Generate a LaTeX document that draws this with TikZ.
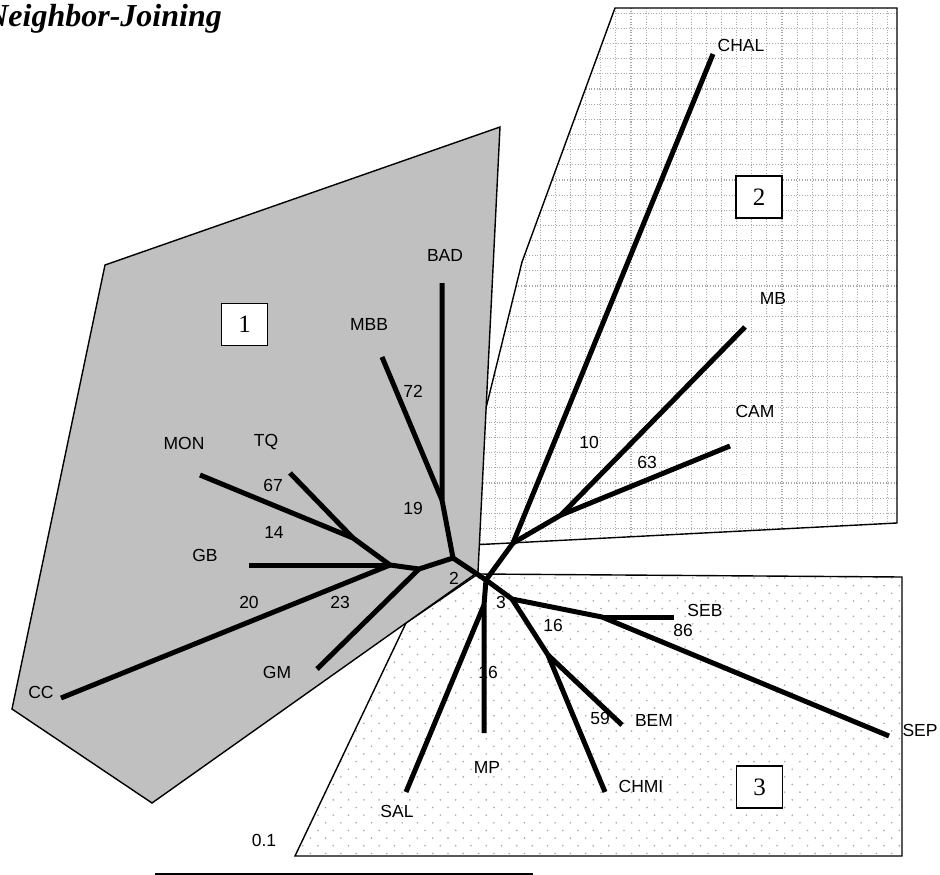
\documentclass[tikz,border=0pt]{standalone}
\usepackage{fontspec}
\setmainfont{Liberation Serif}
\setsansfont{Liberation Sans}
\definecolor{clgray}{HTML}{C0C0C0}
\definecolor{patgray}{HTML}{A8A8A8}
\begin{document}
\begin{tikzpicture}[x=1pt,y=-1pt,
  br/.style={line width=5pt, line cap=butt, line join=round},
  region/.style={line width=1.4pt, line join=miter},
  lbl/.style={font=\sffamily\fontsize{17.5}{20}\selectfont, inner sep=0pt},
  numbox/.style={draw, line width=1.3pt, fill=white, minimum width=46pt, minimum height=42pt, inner sep=0pt, font=\rmfamily\fontsize{25}{25}\selectfont}]
\useasboundingbox (0,0) rectangle (940,875);

% ---------- region 3 (dotted) ----------
\begin{scope}
  \fill[white] (295,856) -- (406,623) -- (478,574) -- (902,577) -- (902,856) -- cycle;
  \clip (295,856) -- (406,623) -- (478,574) -- (902,577) -- (902,856) -- cycle;
  \foreach \i in {0,...,41}{
    \foreach \j in {0,...,19}{
      \fill[patgray] ({295+15.3*\i},{578+15.3*\j}) circle (0.9pt);
      \fill[patgray] ({302.65+15.3*\i},{585.65+15.3*\j}) circle (0.9pt);
    }
  }
\end{scope}
\draw[region] (295,856) -- (406,623) -- (478,574) -- (902,577) -- (902,856) -- cycle;

% ---------- region 2 (grid) ----------
\begin{scope}
  \fill[white] (615,8) -- (897,8) -- (897,523) -- (452,546) -- (522,262) -- cycle;
  \clip (615,8) -- (897,8) -- (897,523) -- (452,546) -- (522,262) -- cycle;
  \foreach \i in {0,...,29}{
    \draw[patgray, line width=1.1pt, dash pattern=on 1pt off 1.7pt] ({480+15.1*\i},0) -- ({480+15.1*\i},560);
  }
  \foreach \j in {0,...,36}{
    \draw[patgray, line width=1.1pt, dash pattern=on 1pt off 1.7pt] (440,{13.3+15.15*\j}) -- (910,{13.3+15.15*\j});
  }
\end{scope}
\draw[region] (615,8) -- (897,8) -- (897,523) -- (452,546) -- (522,262) -- cycle;

% ---------- region 1 (grey) ----------
\draw[region, fill=clgray] (105,265) -- (500,127) -- (478,572) -- (152,803) -- (12,709) -- cycle;

% ---------- tree coordinates ----------
\coordinate (C) at (486,580);
\coordinate (A) at (453,558);
\coordinate (H) at (442,500);
\coordinate (BADe) at (442,283);
\coordinate (MBBe) at (382,357);
\coordinate (I) at (419,569);
\coordinate (GMe) at (317,669);
\coordinate (J) at (390,565);
\coordinate (GBe) at (249,565);
\coordinate (CCe) at (61,698);
\coordinate (K) at (353,538);
\coordinate (MONe) at (200,475);
\coordinate (TQe) at (290,473);
\coordinate (R2a) at (513,543);
\coordinate (R2b) at (561,515);
\coordinate (CHALe) at (713,54);
\coordinate (MBe) at (745,327);
\coordinate (CAMe) at (730,446);
\coordinate (D) at (512,599);
\coordinate (E) at (602,617);
\coordinate (SEBe) at (674,617);
\coordinate (SEPe) at (889,736);
\coordinate (F) at (548,655);
\coordinate (BEMe) at (622,725);
\coordinate (CHMIe) at (605,792);
\coordinate (G) at (484,605);
\coordinate (MPe) at (484,733);
\coordinate (SALe) at (406,792);

% ---------- branches ----------
\draw[br] (MONe) -- (K) -- (J) -- (I) -- (A) -- (C) -- (R2a) -- (CHALe);
\draw[br] (TQe) -- (K);
\draw[br] (GBe) -- (J);
\draw[br] (CCe) -- (J);
\draw[br] (GMe) -- (I);
\draw[br] (BADe) -- (H) -- (A);
\draw[br] (MBBe) -- (H);
\draw[br] (R2a) -- (R2b) -- (MBe);
\draw[br] (R2b) -- (CAMe);
\draw[br] (C) -- (D) -- (E) -- (SEPe);
\draw[br] (E) -- (SEBe);
\draw[br] (D) -- (F) -- (CHMIe);
\draw[br] (F) -- (BEMe);
\draw[br] (C) -- (G) -- (MPe);
\draw[br] (G) -- (SALe);

% ---------- labels ----------
\node[lbl] (lBAD) at (445,255) {BAD};
\node[lbl] (lMBB) at (369,324) {MBB};
\node[lbl] (l72) at (413,391) {72};
\node[lbl] (l19) at (413,508) {19};
\node[lbl] (l2) at (454,578) {2};
\node[lbl] (lMON) at (184,443) {MON};
\node[lbl] (lTQ) at (266,442) {TQ};
\node[lbl] (l67) at (273,485) {67};
\node[lbl] (l14) at (274,532) {14};
\node[lbl] (lGB) at (205,555) {GB};
\node[lbl] (l20) at (249,602) {20};
\node[lbl] (l23) at (340,602) {23};
\node[lbl] (lGM) at (277,672) {GM};
\node[lbl] (lCC) at (41,692) {CC};
\node[lbl] (lCHAL) at (741,45) {CHAL};
\node[lbl] (lMB) at (773,298) {MB};
\node[lbl] (lCAM) at (755,411) {CAM};
\node[lbl] (l10) at (589,442) {10};
\node[lbl] (l63) at (647,462) {63};
\node[lbl] (l3) at (501,602) {3};
\node[lbl] (l16b) at (553,625) {16};
\node[lbl] (l86) at (683,630) {86};
\node[lbl] (lSEB) at (705,610) {SEB};
\node[lbl] (lSEP) at (920,730) {SEP};
\node[lbl] (l59) at (600,718) {59};
\node[lbl] (lBEM) at (654,720) {BEM};
\node[lbl] (lCHMI) at (641,786) {CHMI};
\node[lbl] (lSAL) at (397,811) {SAL};
\node[lbl] (lMP) at (487,767) {MP};
\node[lbl] (l16a) at (488,672) {16};
\node[lbl] (lscale) at (264,840) {0.1};

% ---------- cluster boxes ----------
\node[numbox] (box1) at (244.5,324.5) {1};
\node[numbox] (box2) at (759,197) {2};
\node[numbox] (box3) at (759.5,787) {3};

% ---------- scale bar ----------
\coordinate (SB1) at (155,874);
\coordinate (SB2) at (533,874);
\draw[line width=2pt] (SB1) -- (SB2);

% ---------- title ----------
\node[anchor=base east, inner sep=0pt, font=\rmfamily\bfseries\itshape\fontsize{32}{32}\selectfont] (title) at (222,27) {Neighbor-Joining};
\end{tikzpicture}
\end{document}
